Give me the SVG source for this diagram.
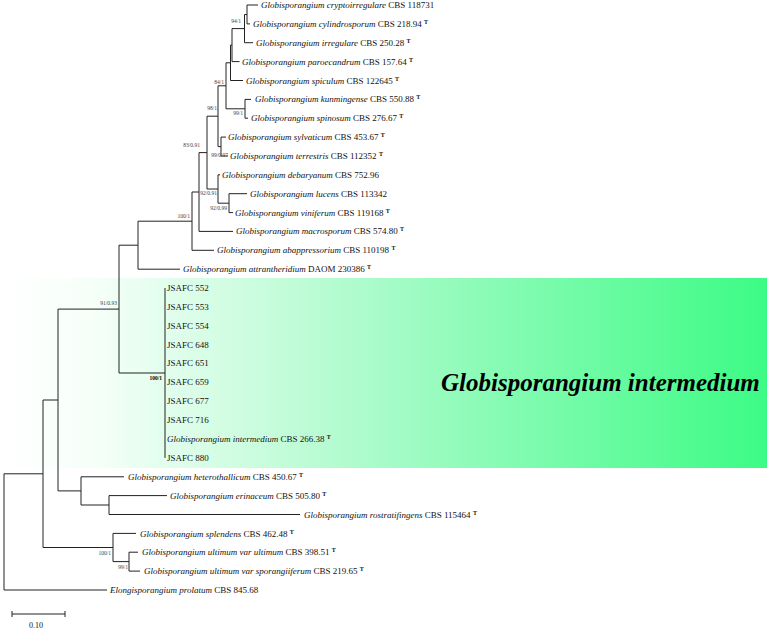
<svg xmlns="http://www.w3.org/2000/svg" width="767" height="630" viewBox="0 0 767 630">
<defs>
<linearGradient id="band" gradientUnits="userSpaceOnUse" x1="0" y1="0" x2="767" y2="0">
<stop offset="0" stop-color="#ffffff"/>
<stop offset="0.12" stop-color="#f6fff9"/>
<stop offset="0.45" stop-color="#b2fbcf"/>
<stop offset="1" stop-color="#3cfb85"/>
</linearGradient>
</defs>
<style>
.br{fill:none;stroke:#222;stroke-width:1}
.lb{font-family:"Liberation Serif","Times New Roman",serif;font-size:9px;fill:#111}
.sp{font-style:italic}
.t{font-size:6px;font-weight:bold}
.bs{font-family:"Liberation Serif","Times New Roman",serif;font-size:5.5px;fill:#444;text-anchor:end}
.bb{font-weight:bold;fill:#000}
.big{font-family:"Liberation Serif","Times New Roman",serif;font-size:25px;font-weight:bold;font-style:italic;fill:#000}
</style>
<rect id="highlight" x="0" y="278" width="767" height="190" fill="url(#band)"/>
<g id="connectors" class="br">
<path d="M247 5V23.9M247 5H258M247 23.9H250"/>
<path d="M244.5 14.5V42.7M244.5 14.5H247M244.5 42.7H253"/>
<path d="M232 28.6V61.6M232 28.6H244.5M232 61.6H239.5"/>
<path d="M230.5 45.1V80.5M230.5 45.1H232M230.5 80.5H243"/>
<path d="M245 99.4V118.2M245 99.4H251M245 118.2H248"/>
<path d="M226 62.8V108.8M226 62.8H230.5M226 108.8H245"/>
<path d="M221 137.1V156M221 137.1H226M221 156H228"/>
<path d="M218 85.8V146.6M218 85.8H226M218 146.6H221"/>
<path d="M229 193.7V212.6M229 193.7H247M229 212.6H233"/>
<path d="M218 174.8V203.2M218 174.8H220M218 203.2H229"/>
<path d="M207 116.2V189M207 116.2H218M207 189H218"/>
<path d="M199 152.6V231.4M199 152.6H207M199 231.4H233"/>
<path d="M192 192V250.3M192 192H199M192 250.3H214"/>
<path d="M138 221.2V269.2M138 221.2H192M138 269.2H180"/>
<path d="M165 288V457.9"/>
<path d="M119 245.2V373M119 245.2H138M119 373H165"/>
<path d="M109 495.6V514.5M109 495.6H167M109 514.5H300"/>
<path d="M81 476.8V505M81 476.8H124M81 505H109"/>
<path d="M58 309.1V490.9M58 309.1H119M58 490.9H81"/>
<path d="M129 552.2V571.1M129 552.2H138M129 571.1H140"/>
<path d="M113 533.4V561.6M113 533.4H136M113 561.6H129"/>
<path d="M43 400V547.5M43 400H58M43 547.5H113"/>
<path d="M4 473.8V590M4 473.8H43M4 590H107"/>
</g>
<g id="support-values">
<text class="bs" x="241" y="23">94/1</text>
<text class="bs" x="224" y="84">84/1</text>
<text class="bs" x="243" y="115">99/1</text>
<text class="bs" x="217" y="110">98/1</text>
<text class="bs" x="200" y="147">83/0.91</text>
<text class="bs" x="228" y="157">99/0.97</text>
<text class="bs" x="217" y="195">92/0.91</text>
<text class="bs" x="227" y="210">92/0.99</text>
<text class="bs" x="190" y="218">100/1</text>
<text class="bs" x="117" y="305">91/0.93</text>
<text class="bs bb" x="162" y="380">100/1</text>
<text class="bs" x="111" y="555">100/1</text>
<text class="bs" x="128" y="569">99/1</text>
</g>
<g id="leaf-cryptoirregulare"><text class="lb" x="261" y="8"><tspan class="sp">Globisporangium cryptoirregulare</tspan> CBS 118731</text></g>
<g id="leaf-cylindrosporum"><text class="lb" x="253" y="27"><tspan class="sp">Globisporangium cylindrosporum</tspan> CBS 218.94 <tspan class="t" dy="-3">T</tspan></text></g>
<g id="leaf-irregulare"><text class="lb" x="256" y="46"><tspan class="sp">Globisporangium irregulare</tspan> CBS 250.28 <tspan class="t" dy="-3">T</tspan></text></g>
<g id="leaf-paroecandrum"><text class="lb" x="242" y="65"><tspan class="sp">Globisporangium paroecandrum</tspan> CBS 157.64 <tspan class="t" dy="-3">T</tspan></text></g>
<g id="leaf-spiculum"><text class="lb" x="246" y="84"><tspan class="sp">Globisporangium spiculum</tspan> CBS 122645 <tspan class="t" dy="-3">T</tspan></text></g>
<g id="leaf-kunmingense"><text class="lb" x="255" y="102"><tspan class="sp">Globisporangium kunmingense</tspan> CBS 550.88 <tspan class="t" dy="-3">T</tspan></text></g>
<g id="leaf-spinosum"><text class="lb" x="251" y="121"><tspan class="sp">Globisporangium spinosum</tspan> CBS 276.67 <tspan class="t" dy="-3">T</tspan></text></g>
<g id="leaf-sylvaticum"><text class="lb" x="228" y="140"><tspan class="sp">Globisporangium sylvaticum</tspan> CBS 453.67 <tspan class="t" dy="-3">T</tspan></text></g>
<g id="leaf-terrestris"><text class="lb" x="230" y="159"><tspan class="sp">Globisporangium terrestris</tspan> CBS 112352 <tspan class="t" dy="-3">T</tspan></text></g>
<g id="leaf-debaryanum"><text class="lb" x="222" y="178"><tspan class="sp">Globisporangium debaryanum</tspan> CBS 752.96</text></g>
<g id="leaf-lucens"><text class="lb" x="250" y="197"><tspan class="sp">Globisporangium lucens</tspan> CBS 113342</text></g>
<g id="leaf-viniferum"><text class="lb" x="235" y="216"><tspan class="sp">Globisporangium viniferum</tspan> CBS 119168 <tspan class="t" dy="-3">T</tspan></text></g>
<g id="leaf-macrosporum"><text class="lb" x="236" y="234"><tspan class="sp">Globisporangium macrosporum</tspan> CBS 574.80 <tspan class="t" dy="-3">T</tspan></text></g>
<g id="leaf-abappressorium"><text class="lb" x="217" y="253"><tspan class="sp">Globisporangium abappressorium</tspan> CBS 110198 <tspan class="t" dy="-3">T</tspan></text></g>
<g id="leaf-attrantheridium"><text class="lb" x="183" y="272"><tspan class="sp">Globisporangium attrantheridium</tspan> DAOM 230386 <tspan class="t" dy="-3">T</tspan></text></g>
<g id="leaf-JSAFC552"><text class="lb" x="167" y="291">JSAFC 552</text></g>
<g id="leaf-JSAFC553"><text class="lb" x="167" y="310">JSAFC 553</text></g>
<g id="leaf-JSAFC554"><text class="lb" x="167" y="329">JSAFC 554</text></g>
<g id="leaf-JSAFC648"><text class="lb" x="167" y="348">JSAFC 648</text></g>
<g id="leaf-JSAFC651"><text class="lb" x="167" y="366">JSAFC 651</text></g>
<g id="leaf-JSAFC659"><text class="lb" x="167" y="385">JSAFC 659</text></g>
<g id="leaf-JSAFC677"><text class="lb" x="167" y="404">JSAFC 677</text></g>
<g id="leaf-JSAFC716"><text class="lb" x="167" y="423">JSAFC 716</text></g>
<g id="leaf-intermedium"><text class="lb" x="167" y="442"><tspan class="sp">Globisporangium intermedium</tspan> CBS 266.38 <tspan class="t" dy="-3">T</tspan></text></g>
<g id="leaf-JSAFC880"><text class="lb" x="167" y="461">JSAFC 880</text></g>
<g id="clade-label"><text class="big" x="441" y="391">Globisporangium intermedium</text></g>
<g id="leaf-heterothallicum"><text class="lb" x="128" y="480"><tspan class="sp">Globisporangium heterothallicum</tspan> CBS 450.67 <tspan class="t" dy="-3">T</tspan></text></g>
<g id="leaf-erinaceum"><text class="lb" x="170" y="499"><tspan class="sp">Globisporangium erinaceum</tspan> CBS 505.80 <tspan class="t" dy="-3">T</tspan></text></g>
<g id="leaf-rostratifingens"><text class="lb" x="304" y="518"><tspan class="sp">Globisporangium rostratifingens</tspan> CBS 115464 <tspan class="t" dy="-3">T</tspan></text></g>
<g id="leaf-splendens"><text class="lb" x="140" y="537"><tspan class="sp">Globisporangium splendens</tspan> CBS 462.48 <tspan class="t" dy="-3">T</tspan></text></g>
<g id="leaf-ultimum"><text class="lb" x="142" y="555"><tspan class="sp">Globisporangium ultimum var ultimum</tspan> CBS 398.51 <tspan class="t" dy="-3">T</tspan></text></g>
<g id="leaf-sporangiiferum"><text class="lb" x="144" y="574"><tspan class="sp">Globisporangium ultimum var sporangiiferum</tspan> CBS 219.65 <tspan class="t" dy="-3">T</tspan></text></g>
<g id="leaf-prolatum"><text class="lb" x="110" y="593"><tspan class="sp">Elongisporangium prolatum</tspan> CBS 845.68</text></g>
<g id="scale-bar">
<path class="br" d="M12 614H65M12 611V617M65 611V617"/>
<text class="lb" x="36" y="628" text-anchor="middle" style="font-size:8px">0.10</text>
</g>
</svg>
